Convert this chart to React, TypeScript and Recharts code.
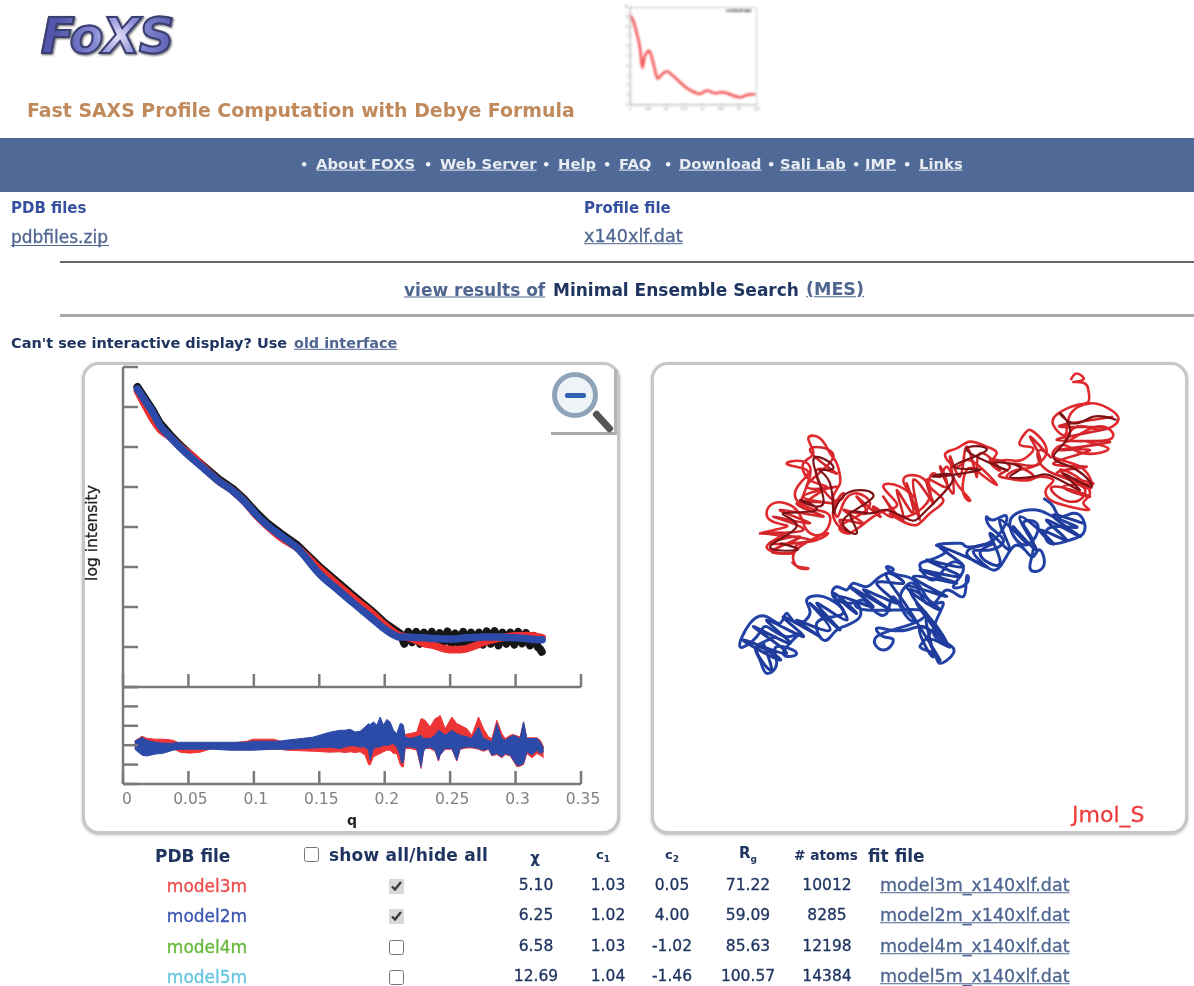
import React from 'react';
import { ComposedChart, LineChart, Line, Area, XAxis, YAxis } from 'recharts';

/* ---------- main profile plot ---------- */
const qTicks = [0, 0.05, 0.1, 0.15, 0.2, 0.25, 0.3, 0.35];
const intensityTicks = [0, 1, 2, 3, 4, 5, 6, 7, 8];
const residualTicks = [-2, -1, 0, 1, 2, 3];

const profileQ = [0.011, 0.017, 0.023, 0.028, 0.036, 0.044, 0.054, 0.063, 0.073, 0.084, 0.093, 0.102, 0.11, 0.12, 0.133, 0.151, 0.166, 0.176, 0.189, 0.2, 0.212, 0.217, 0.2232, 0.2309, 0.2385, 0.2462, 0.2538, 0.2615, 0.2692, 0.2768, 0.2844, 0.2921, 0.2997, 0.3074, 0.3135, 0.3173, 0.3203];
const model2m = [7.45, 7.15, 6.85, 6.55, 6.25, 5.98, 5.68, 5.43, 5.15, 4.9, 4.63, 4.3, 4.05, 3.8, 3.48, 2.8, 2.38, 2.1, 1.75, 1.45, 1.25, 1.25, 1.24, 1.23, 1.21, 1.2, 1.2, 1.23, 1.24, 1.25, 1.25, 1.24, 1.23, 1.21, 1.19, 1.18, 1.18];
const model3m = [7.4, 7.03, 6.68, 6.45, 6.25, 6.0, 5.75, 5.45, 5.15, 4.9, 4.63, 4.28, 4.03, 3.75, 3.48, 2.93, 2.5, 2.22, 1.88, 1.55, 1.28, 1.25, 1.18, 1.08, 1.03, 0.95, 0.93, 0.95, 1.03, 1.13, 1.2, 1.25, 1.28, 1.29, 1.28, 1.25, 1.23];
const measuredQ = [0.011, 0.017, 0.023, 0.028, 0.036, 0.044, 0.054, 0.063, 0.073, 0.084, 0.093, 0.102, 0.11, 0.12, 0.133, 0.151, 0.166, 0.176, 0.189, 0.2, 0.212, 0.215, 0.218, 0.221, 0.224, 0.227, 0.23, 0.233, 0.236, 0.239, 0.242, 0.245, 0.248, 0.251, 0.254, 0.257, 0.26, 0.263, 0.266, 0.269, 0.272, 0.275, 0.278, 0.281, 0.284, 0.287, 0.29, 0.293, 0.296, 0.299, 0.302, 0.305, 0.308, 0.311, 0.314, 0.317, 0.319, 0.32];
const measured = [7.5, 7.2, 6.9, 6.6, 6.3, 6.03, 5.73, 5.48, 5.2, 4.95, 4.68, 4.35, 4.1, 3.85, 3.55, 2.98, 2.56, 2.28, 1.93, 1.6, 1.33, 1.08, 1.38, 1.12, 1.38, 1.08, 1.36, 1.1, 1.38, 1.06, 1.35, 1.12, 1.39, 1.06, 1.34, 1.08, 1.38, 1.05, 1.36, 1.1, 1.36, 1.06, 1.39, 1.08, 1.4, 1.04, 1.36, 1.08, 1.36, 1.06, 1.38, 1.09, 1.35, 1.04, 1.28, 1.0, 0.94, 0.88];

/* ---------- residual plot ---------- */
const residualQ = [0.009, 0.0145, 0.018, 0.0245, 0.031, 0.038, 0.0435, 0.051, 0.059, 0.069, 0.082, 0.095, 0.099, 0.115, 0.12, 0.125, 0.145, 0.158,
  0.1659, 0.1697, 0.1736, 0.1774, 0.1812, 0.185, 0.1876, 0.1888, 0.1914, 0.194, 0.1965, 0.1991, 0.2016, 0.2041, 0.2067, 0.2092, 0.2118, 0.213, 0.2143, 0.2156, 0.2194, 0.2245, 0.2278, 0.2296, 0.2309, 0.2347, 0.2385, 0.2411, 0.2423, 0.2462, 0.2513, 0.2551, 0.2577, 0.2628, 0.2666, 0.2717, 0.2755, 0.2793, 0.2819, 0.2857, 0.2895, 0.2921, 0.2959, 0.2984, 0.301, 0.3035, 0.3061, 0.3086, 0.3125, 0.3163, 0.3188, 0.3214];
const blueHigh = [0.21, 0.41, 0.26, 0.15, 0.1, 0.1, 0.15, 0.15, 0.15, 0.15, 0.15, 0.15, 0.21, 0.21, 0.21, 0.26, 0.41, 0.67,
  0.77, 0.77, 0.82, 0.68, 0.72, 0.94, 1.11, 1.06, 1.2, 1.03, 1.45, 1.03, 1.33, 1.2, 0.77, 0.6, 1.11, 1.11, 1.03, 0.43, 0.34, 0.43, 0.51, 0.34, 0.34, 0.34, 0.51, 0.77, 0.72, 0.51, 0.77, 0.6, 0.51, 0.43, 0.34, 0.94, 0.34, 0.26, 0.17, 1.11, 0.34, 0.26, 0.43, 0.51, 0.43, 0.34, 1.2, 0.34, 0.34, 0.34, 0.17, -0.17];
const blueLow = [-0.21, -0.51, -0.56, -0.46, -0.41, -0.26, -0.21, -0.21, -0.21, -0.21, -0.26, -0.26, -0.26, -0.21, -0.21, -0.21, -0.15, -0.1,
  -0.17, -0.09, -0.03, -0.03, -0.09, -0.09, -0.26, -0.77, -0.17, -0.09, -0.09, 0, 0, 0.03, 0.09, -0.09, -0.51, -0.94, -0.85, -0.09, -0.09, -0.17, -1.11, -0.34, -0.17, -0.09, -0.26, -0.77, -0.51, -0.17, -0.17, -0.77, -0.17, -0.09, -0.09, -0.17, -0.26, -0.17, -0.51, -0.43, -0.6, -0.43, -0.51, -0.77, -1.03, -1.03, -0.94, -0.34, -0.51, -0.26, -0.43, -0.34];
const redHigh = [0.21, 0.46, 0.36, 0.31, 0.31, 0.26, 0.1, 0.1, 0.05, 0.1, 0.1, 0.21, 0.31, 0.31, 0.21, 0.21, 0.26, 0.21,
  0.34, 0.26, 0.21, 0.26, 0.26, 0.34, 0.34, 0.34, 0.34, 0.43, 0.51, 0.51, 0.51, 0.51, 0.43, 0.34, 0.34, 0.34, 0.34, 0.55, 0.6, 0.68, 1.37, 1.33, 1.28, 0.94, 1.37, 1.45, 1.54, 0.85, 1.45, 1.11, 1.03, 0.85, 0.51, 1.45, 0.85, 0.43, 0.34, 1.28, 0.6, 0.34, 0.51, 0.55, 0.48, 0.43, 1.2, 0.38, 0.38, 0.38, 0.26, -0.09];
const redLow = [-0.15, -0.21, -0.26, -0.26, -0.21, -0.15, -0.36, -0.41, -0.36, -0.15, -0.15, -0.15, -0.21, -0.21, -0.21, -0.26, -0.31, -0.36,
  -0.34, -0.38, -0.34, -0.38, -0.34, -0.51, -0.99, -1.03, -0.6, -0.51, -0.43, -0.34, -0.26, -0.26, -0.43, -0.43, -0.99, -1.11, -1.11, -0.17, -0.17, -0.26, -1.2, -0.34, -0.17, -0.17, -0.31, -0.82, -0.51, -0.21, -0.21, -0.82, -0.21, -0.14, -0.14, -0.21, -0.31, -0.21, -0.55, -0.48, -0.65, -0.48, -0.55, -0.82, -1.11, -1.08, -0.99, -0.43, -0.65, -0.43, -0.51, -0.65];

/* ---------- thumbnail profile ---------- */
const thumbQ = [0, 0.009, 0.018, 0.028, 0.034, 0.041, 0.053, 0.064, 0.076, 0.0875, 0.101, 0.12, 0.157, 0.193, 0.212, 0.235, 0.253, 0.304, 0.322, 0.345];
const thumbI = [9.14, 8.62, 7.41, 5.69, 3.79, 5.0, 5.52, 4.31, 2.69, 3.1, 3.45, 2.93, 1.72, 1.14, 1.48, 1.21, 1.31, 0.79, 1.03, 1.1];
const thumbXTicks = [0, 0.05, 0.1, 0.15, 0.2, 0.25, 0.3, 0.35];
const thumbYTicks = [0, 1, 2, 3, 4, 5, 6, 7, 8, 9, 10];

/* ---------- projected backbone traces of the two models ---------- */
const redChain: number[][] = [[1112,30],[1125,12],[1142,15],[1148,30],[1120,36],[1150,38],[1165,60],[1165,95],[1130,105],[1075,130],[1060,165],[1095,195],[1110,135],[1170,100],[1225,115],[1255,150],[1200,180],[1130,170],[1100,215],[1190,170],[1235,205],[1160,215],[1225,235],[1150,250],[1090,225],[1060,260],[1140,290],[1175,350],[1130,340],[1080,300],[1130,320],[1170,370],[1150,400],[1165,420],[1090,405],[1045,385],[1040,355],[1060,330],[1020,320],[990,330],[950,330],[920,320],[950,300],[1000,290],[1040,240],[1000,185],[975,190],[960,225],[1000,235],[965,270],[920,270],[875,275],[890,250],[860,230],[810,215],[770,235],[735,255],[770,290],[800,270],[850,300],[890,345],[840,310],[800,300],[790,370],[810,390],[770,340],[740,290],[720,320],[700,310],[690,350],[730,390],[690,430],[650,465],[600,450],[570,430],[620,440],[680,400],[690,360],[660,320],[610,330],[640,380],[600,350],[550,350],[590,400],[560,420],[520,440],[480,470],[440,490],[420,470],[470,440],[510,400],[470,370],[430,400],[410,440],[400,380],[420,340],[410,280],[390,250],[360,205],[325,205],[340,250],[310,280],[330,330],[380,350],[340,380],[300,400],[330,290],[260,280],[320,300],[300,340],[290,390],[350,420],[390,440],[370,490],[320,480],[290,420],[220,400],[210,450],[260,470],[180,490],[250,490],[200,530],[270,550],[290,525],[350,510],[380,490],[300,530],[280,570],[300,595],[325,595],[295,590],[275,575]];
const redFill: number[][] = [[1240,140],[1080,170],[1220,175],[1070,210],[1230,215],[1075,240],[1170,240],[1060,280],[1160,290],[1070,310],[1180,340],[1090,350],[1170,380],[1060,350],[1110,395],[1150,350],[1040,300],[1020,240],[1050,260],[990,200],[1020,280],[940,280],[1000,320],[900,320],[930,290],[870,270],[900,300],[840,250],[830,320],[800,230],[780,320],[750,260],[760,370],[720,290],[740,350],[680,330],[700,400],[640,330],[660,450],[620,340],[640,430],[590,360],[610,450],[550,380],[580,440],[520,410],[540,440],[470,380],[500,430],[430,420],[490,460],[420,450],[450,490],[400,440],[430,370],[400,390],[350,300],[410,310],[330,240],[400,260],[320,350],[410,350],[310,380],[400,400],[290,400],[370,440],[240,420],[330,460],[220,440],[310,480],[190,490],[330,510],[210,520],[300,500],[220,540],[280,550]];
const darkChain: number[][] = [[1250,150],[1180,140],[1120,160],[1080,130],[1110,190],[1060,260],[1130,300],[1170,350],[1090,310],[1140,360],[1060,320],[1000,320],[930,320],[960,290],[880,280],[920,300],[800,240],[860,240],[760,290],[840,300],[700,320],[760,320],[680,420],[630,450],[560,420],[510,430],[450,430],[470,490],[430,450],[520,380],[440,370],[400,430],[390,340],[360,300],[400,290],[340,270],[370,400],[300,390],[350,420],[250,430],[290,470],[210,530],[290,540],[240,520]];
const blueChain: number[][] = [[1030,385],[1060,410],[1080,440],[1120,430],[1150,450],[1150,490],[1110,510],[1050,520],[1040,480],[1090,470],[1130,470],[1060,440],[1010,420],[950,430],[930,470],[960,520],[1000,510],[1010,460],[970,460],[1000,520],[990,595],[1030,590],[1020,540],[1000,560],[975,540],[940,530],[900,590],[860,590],[820,545],[870,540],[910,510],[870,470],[860,440],[880,450],[920,440],[880,510],[800,530],[780,520],[710,525],[740,540],[690,570],[660,590],[700,630],[750,580],[790,600],[760,650],[800,640],[800,620],[790,680],[740,660],[700,700],[660,650],[620,620],[580,610],[560,590],[580,600],[540,620],[500,650],[460,640],[440,660],[410,650],[400,680],[450,700],[490,690],[520,720],[560,730],[580,680],[620,740],[640,745],[600,690],[640,640],[680,700],[730,700],[700,780],[740,820],[760,850],[720,880],[700,850],[660,830],[690,790],[660,770],[620,780],[570,780],[530,775],[550,800],[580,810],[550,840],[530,800],[640,760],[660,720],[500,720],[470,700],[480,740],[430,770],[400,790],[370,810],[350,760],[400,740],[430,720],[370,680],[320,690],[330,730],[290,760],[260,730],[240,760],[200,740],[150,760],[120,830],[170,800],[200,770],[260,800],[300,790],[250,850],[290,850],[230,830],[230,880],[200,910],[180,870],[170,830],[230,800]];
const blueFill: number[][] = [[1150,460],[1060,440],[1140,500],[1040,450],[1100,510],[1020,480],[1060,520],[960,440],[1010,540],[940,470],[980,520],[900,450],[930,540],[870,490],[900,580],[840,550],[880,520],[800,550],[860,590],[720,530],[790,590],[680,570],[780,620],[660,600],[770,640],[640,620],[740,680],[620,650],[720,720],[630,660],[710,770],[650,700],[740,820],[680,740],[700,860],[660,770],[750,830],[690,810],[720,870],[640,740],[600,680],[560,610],[610,640],[530,640],[590,700],[490,660],[570,720],[450,650],[520,710],[420,680],[470,730],[400,670],[440,750],[350,700],[420,780],[330,700],[390,780],[290,750],[360,800],[250,740],[310,800],[200,750],[270,820],[160,770],[260,850],[130,810],[240,870],[170,830],[210,900],[190,820]];

/* ---------- results table ---------- */
const modelNames = ['model3m', 'model2m', 'model4m', 'model5m'];
const modelColors = ['#ef4a4a', '#3a55b0', '#66b83a', '#66c8e0'];
const modelShown = [true, true, false, false];
const chiValues = ['5.10', '6.25', '6.58', '12.69'];
const c1Values = ['1.03', '1.02', '1.03', '1.04'];
const c2Values = ['0.05', '4.00', '-1.02', '-1.46'];
const rgValues = ['71.22', '59.09', '85.63', '100.57'];
const atomValues = ['10012', '8285', '12198', '14384'];
const fitFiles = ['model3m_x140xlf.dat', 'model2m_x140xlf.dat', 'model4m_x140xlf.dat', 'model5m_x140xlf.dat'];
const rowY = [886, 916, 947, 977];

const navItems: [string, number][] = [['About FOXS', 316], ['Web Server', 440], ['Help', 558], ['FAQ', 619], ['Download', 679], ['Sali Lab', 780], ['IMP', 865], ['Links', 919]];
const navDots = [300, 424, 542, 603, 664, 767, 852, 903];

const FONT = '"DejaVu Sans", Verdana, sans-serif';
const LINK = '#4f6690';
const NAVY = '#1f3560';
const AXIS = '#7a7a7a';

type TP = { x: number; y: number; s?: number; c?: string; w?: number; u?: boolean; a?: 'l' | 'c'; ls?: number; children: React.ReactNode };
const T = ({ x, y, s = 14, c = NAVY, w = 700, u, a = 'l', ls = 0, children }: TP) => (
  <span style={{ position: 'absolute', left: x, top: y, transform: a === 'c' ? 'translate(-50%,-50%)' : 'translateY(-50%)', fontFamily: FONT, fontSize: s, color: c, fontWeight: w, textDecoration: u ? 'underline' : 'none', whiteSpace: 'nowrap', letterSpacing: ls, lineHeight: 1, WebkitTextStroke: w === 400 ? '0.3px' : undefined }}>{children}</span>
);

const Panel = ({ x, w }: { x: number; w: number }) => (
  <div style={{ position: 'absolute', left: x, top: 362, width: w, height: 472, boxSizing: 'border-box', border: '3px solid #c4c6c8', borderRadius: 17, background: '#fff', boxShadow: '0 1px 3px #bbb' }} />
);

const QTick = (props: any) => {
  const v = props.payload.value;
  return <text x={props.x + (v === 0 ? 4 : 2)} y={props.y + 31} textAnchor="middle" fontFamily={FONT} fontSize={15.5} fill="#808080">{String(v)}</text>;
};
const NoLabel = () => <g />;

const profile = profileQ.map((q, i) => ({ q, m2: model2m[i], m3: model3m[i] }));
const measuredRows = measuredQ.map((q, i) => ({ q, v: measured[i] }));
const residualRows = residualQ.map((q, i) => ({ q, blue: [blueLow[i], blueHigh[i]], red: [redLow[i], redHigh[i]] }));
const thumbRows = thumbQ.map((q, i) => ({ q, v: thumbI[i] }));
const toXY = (c: number[][]) => c.map(([x, y]) => ({ x, y }));

const axisStyle = { stroke: AXIS, strokeWidth: 2.5 };
const checkStyle = { position: 'absolute' as const, margin: 0, width: 15, height: 15, accentColor: '#d9d9d9' };

export default function App() {
  return (
    <div style={{ position: 'absolute', left: 0, top: 0, width: 1194, height: 986, overflow: 'hidden', background: '#fff', filter: 'blur(0.7px)' }}>
      {/* logo */}
      <span style={{ position: 'absolute', left: 41, top: 10, fontFamily: '"DejaVu Sans", sans-serif', fontWeight: 700, fontStyle: 'italic', fontSize: 49, letterSpacing: -1, color: 'transparent', background: 'radial-gradient(circle at 58% 50%, #e4def8 0%, #8a8cd6 28%, #5257ab 75%)', WebkitBackgroundClip: 'text', backgroundClip: 'text', WebkitTextStroke: '2px #3a3f70', filter: 'drop-shadow(1px 1px 1px #666)', lineHeight: 1.1 }}>FoXS</span>
      <T x={27} y={110} s={18.9} c="#c08a5c">Fast SAXS Profile Computation with Debye Formula</T>

      {/* thumbnail */}
      <div style={{ position: 'absolute', left: 615, top: 0, filter: 'blur(0.8px)' }}>
        <div style={{ position: 'absolute', left: 15, top: 7, width: 127, height: 98, border: '1px solid #ccc', boxSizing: 'border-box' }} />
        <LineChart width={150} height={116} data={thumbRows} margin={{ left: 14, right: 8, top: 7, bottom: 10 }}>
          <XAxis dataKey="q" type="number" domain={[0, 0.35]} ticks={thumbXTicks} interval={0} height={1} tickSize={-2} tickMargin={0} axisLine={{ stroke: '#bbb' }} tickLine={{ stroke: '#bbb' }} tick={(p: any) => <text x={p.x} y={p.y + 7} textAnchor="middle" fontSize={3.5} fill="#666">{String(p.payload.value)}</text>} />
          <YAxis type="number" domain={[0, 10]} ticks={thumbYTicks} interval={0} width={1} tickSize={-2} tickMargin={0} axisLine={{ stroke: '#bbb' }} tickLine={{ stroke: '#bbb' }} tick={(p: any) => <text x={p.x - 4} y={p.y + 1} textAnchor="end" fontSize={3.5} fill="#666">{String(p.payload.value)}</text>} />
          <Line dataKey="v" type="monotone" stroke="#f25555" strokeWidth={2.6} dot={false} isAnimationActive={false} />
        </LineChart>
        <span style={{ position: 'absolute', left: 111, top: 8, fontFamily: FONT, fontSize: 4, color: '#222', fontWeight: 700 }}>x140xlf.dat</span>
      </div>

      {/* nav bar */}
      <div style={{ position: 'absolute', left: 0, top: 138, width: 1194, height: 54, background: '#4f6a96' }} />
      {navDots.map((x) => <T key={x} x={x} y={164} s={13} c="#eef1f6" w={700}>•</T>)}
      {navItems.map(([t, x]) => <T key={t} x={x} y={164} s={14.8} c="#e8ecf3" w={700} u>{t}</T>)}

      {/* files */}
      <T x={11} y={208} s={15} c="#3650a0">PDB files</T>
      <T x={11} y={237} s={17} c={LINK} w={400}>pdbfiles.zip</T>
      <div style={{ position: 'absolute', left: 11, top: 245, width: 98, height: 1, background: LINK }} />
      <T x={584} y={208} s={15} c="#3650a0">Profile file</T>
      <T x={584} y={237} s={17.6} c={LINK} w={400} u>x140xlf.dat</T>
      <div style={{ position: 'absolute', left: 60, top: 261, width: 1134, height: 2, background: '#666' }} />
      <T x={404} y={290} s={17} c={LINK} u>view results of</T>
      <T x={553} y={290} s={17} c={NAVY}>Minimal Ensemble Search</T>
      <T x={806} y={290} s={17.5} c={LINK} u>(MES)</T>
      <div style={{ position: 'absolute', left: 60, top: 314, width: 1134, height: 3, background: '#a8a8a8' }} />
      <T x={11} y={343} s={14.5} c={NAVY}>Can't see interactive display? Use</T>
      <T x={294} y={343} s={14.4} c={LINK} u>old interface</T>

      {/* panels */}
      <Panel x={82} w={538} />
      <Panel x={651} w={537} />

      <div style={{ position: 'absolute', left: 82, top: 362 }}>
        <ComposedChart width={538} height={330} margin={{ left: 40, right: 39, top: 5, bottom: 4 }}>
          <XAxis dataKey="q" type="number" domain={[0, 0.35]} ticks={qTicks} interval={0} height={1} tickSize={-13} tick={<NoLabel />} axisLine={axisStyle} tickLine={axisStyle} />
          <YAxis type="number" domain={[0, 8]} ticks={intensityTicks} interval={0} width={1} tickSize={-15} tick={<NoLabel />} axisLine={axisStyle} tickLine={axisStyle} />
          <Line data={measuredRows} dataKey="v" stroke="#161616" strokeWidth={8} dot={false} strokeLinejoin="round" strokeLinecap="round" isAnimationActive={false} />
          <Line data={profile} dataKey="m3" type="monotone" stroke="#ee2f2f" strokeWidth={7.5} dot={false} strokeLinecap="round" isAnimationActive={false} />
          <Line data={profile} dataKey="m2" type="monotone" stroke="#2c4aa8" strokeWidth={7.5} dot={false} strokeLinecap="round" isAnimationActive={false} />
        </ComposedChart>
      </div>
      <div style={{ position: 'absolute', left: 82, top: 687 }}>
        <ComposedChart width={538} height={147} margin={{ left: 40, right: 39, top: 0, bottom: 49 }}>
          <XAxis dataKey="q" type="number" domain={[0, 0.35]} ticks={qTicks} interval={0} height={1} tickSize={-13} tick={<QTick />} axisLine={axisStyle} tickLine={axisStyle} />
          <YAxis type="number" domain={[-2, 3]} ticks={residualTicks} interval={0} width={1} tickSize={-15} tick={<NoLabel />} axisLine={axisStyle} tickLine={axisStyle} />
          <Area data={residualRows} dataKey="red" stroke="#ee3535" strokeWidth={1} fill="#ee3535" fillOpacity={1} dot={false} isAnimationActive={false} />
          <Area data={residualRows} dataKey="blue" stroke="#2c4aa8" strokeWidth={1} fill="#2c4aa8" fillOpacity={1} dot={false} isAnimationActive={false} />
        </ComposedChart>
      </div>
      <div style={{ position: 'absolute', left: 92, top: 533, transform: 'translate(-50%,-50%) rotate(-90deg)', fontFamily: FONT, fontSize: 15.5, color: '#222', whiteSpace: 'nowrap', WebkitTextStroke: '0.3px' }}>log intensity</div>
      <T x={352} y={820} s={14} c="#222" a="c">q</T>

      {/* zoom icon */}
      <div style={{ position: 'absolute', left: 551, top: 369, width: 66, height: 66, background: '#fff', borderRight: '3px solid #b5b5b5', borderBottom: '3px solid #aaa', boxSizing: 'border-box' }} />
      <div style={{ position: 'absolute', left: 552, top: 372, width: 46, height: 46, borderRadius: '50%', border: '5px solid #8ea3b8', background: '#eef3f8', boxSizing: 'border-box' }} />
      <div style={{ position: 'absolute', left: 565, top: 393, width: 21, height: 5, background: '#2f62b0', borderRadius: 2 }} />
      <div style={{ position: 'absolute', left: 590, top: 418, width: 26, height: 7, background: '#555', borderRadius: 3, transform: 'rotate(48deg)' }} />

      {/* structure view */}
      <div style={{ position: 'absolute', left: 700, top: 370 }}>
        <LineChart width={450} height={320} margin={{ left: 0, right: 0, top: 0, bottom: 0 }}>
          <XAxis dataKey="x" type="number" domain={[0, 1350]} hide />
          <YAxis type="number" domain={[0, 960]} reversed hide />
          <Line data={toXY(redChain)} dataKey="y" type="natural" stroke="#e02a2e" strokeWidth={2.6} dot={false} isAnimationActive={false} />
          <Line data={toXY(redFill)} dataKey="y" type="natural" stroke="#d3262a" strokeWidth={2.6} dot={false} isAnimationActive={false} />
          <Line data={toXY(darkChain)} dataKey="y" type="natural" stroke="#7c1216" strokeWidth={2.2} dot={false} isAnimationActive={false} />
          <Line data={toXY(blueChain)} dataKey="y" type="natural" stroke="#2242a6" strokeWidth={3} dot={false} isAnimationActive={false} />
          <Line data={toXY(blueFill)} dataKey="y" type="natural" stroke="#1f3c9c" strokeWidth={3} dot={false} isAnimationActive={false} />
        </LineChart>
      </div>
      <T x={1072} y={815} s={22} c="#ee3d3d" w={400}>Jmol_S</T>

      {/* table header */}
      <T x={155} y={856} s={17} c={NAVY}>PDB file</T>
      <input type="checkbox" readOnly style={{ ...checkStyle, left: 304, top: 847 }} />
      <T x={329} y={855} s={17} c={NAVY} ls={0.2}>show all/hide all</T>
      <T x={535} y={858} s={15} c={NAVY} a="c">χ</T>
      <T x={603} y={856} s={13} c={NAVY} a="c">c<sub style={{ fontSize: 9 }}>1</sub></T>
      <T x={672} y={856} s={13} c={NAVY} a="c">c<sub style={{ fontSize: 9 }}>2</sub></T>
      <T x={748} y={855} s={15} c={NAVY} a="c">R<sub style={{ fontSize: 9 }}>g</sub></T>
      <T x={826} y={856} s={13.7} c={NAVY} a="c"># atoms</T>
      <T x={868} y={856} s={17} c={NAVY}>fit file</T>

      {/* table rows */}
      {modelNames.map((m, i) => (
        <React.Fragment key={m}>
          <T x={207} y={rowY[i]} s={17} c={modelColors[i]} w={400} a="c">{m}</T>
          <input type="checkbox" checked={modelShown[i]} readOnly style={{ ...checkStyle, left: 389, top: rowY[i] - 7 }} />
          <T x={536} y={rowY[i]} s={15.5} c={NAVY} w={400} a="c">{chiValues[i]}</T>
          <T x={608} y={rowY[i]} s={15.5} c={NAVY} w={400} a="c">{c1Values[i]}</T>
          <T x={672} y={rowY[i]} s={15.5} c={NAVY} w={400} a="c">{c2Values[i]}</T>
          <T x={748} y={rowY[i]} s={15.5} c={NAVY} w={400} a="c">{rgValues[i]}</T>
          <T x={827} y={rowY[i]} s={15.5} c={NAVY} w={400} a="c">{atomValues[i]}</T>
          <T x={880} y={rowY[i]} s={17.5} c={LINK} w={400} u>{fitFiles[i]}</T>
        </React.Fragment>
      ))}
    </div>
  );
}
